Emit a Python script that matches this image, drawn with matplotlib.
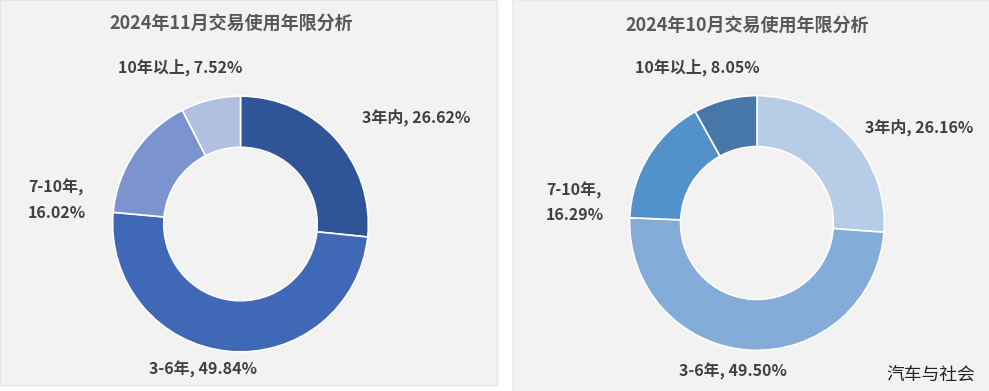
import matplotlib
matplotlib.use("Agg")
import matplotlib.pyplot as plt
from matplotlib.patches import Rectangle

plt.rcParams['font.family'] = ['Noto Sans CJK SC', 'DejaVu Sans']

categories = ["3年内", "3-6年", "7-10年", "10年以上"]
nov_values = [26.62, 49.84, 16.02, 7.52]
oct_values = [26.16, 49.50, 16.29, 8.05]
nov_title = "2024年11月交易使用年限分析"
oct_title = "2024年10月交易使用年限分析"
nov_colors = ["#2f5597", "#3f69b6", "#7b93cf", "#b1bfe0"]
oct_colors = ["#b6cce7", "#84acd9", "#5291c9", "#4677a8"]
watermark = "汽车与社会"

W, H = 989, 391
fig = plt.figure(figsize=(W / 100, H / 100), dpi=100, facecolor="white")

def px_rect(x0, y0, x1, y1):
    return [x0 / W, 1 - y1 / H, (x1 - x0) / W, (y1 - y0) / H]

bg = fig.add_axes([0, 0, 1, 1])
bg.set_xlim(0, W)
bg.set_ylim(H, 0)
bg.axis("off")
bg.add_patch(Rectangle((0, 0), 497, 385, facecolor="#f2f2f2", edgecolor="#e4e4e4", lw=0.8))
bg.add_patch(Rectangle((512, 0), 477, 391, facecolor="#f2f2f2", edgecolor="#e8e8e8", lw=0.6))

def donut(cx, cy, r, values, colors):
    ax = fig.add_axes(px_rect(cx - r, cy - r, cx + r, cy + r))
    ax.pie(values, colors=colors, startangle=90, counterclock=False,
           radius=1.0, wedgeprops=dict(width=0.4, edgecolor="white", linewidth=1.2))
    ax.set_xlim(-1.005, 1.005)
    ax.set_ylim(-1.005, 1.005)
    ax.set_aspect("equal")
    ax.axis("off")
    return ax

donut(240.5, 224, 128.5, nov_values, nov_colors)
donut(757, 223, 128, oct_values, oct_colors)

tc = "#595959"
lc = "#404040"
def txt(x, y, s, size=11.5, ha="center", weight="bold", color=lc):
    bg.text(x, y, s, ha=ha, va="center", fontsize=size, fontweight=weight, color=color)

def fmt(c, v):
    return f"{c}, {v:.2f}%"

txt(231, 23, nov_title, size=13, color=tc)
txt(747, 25, oct_title, size=13, color=tc)

# November labels
txt(180, 67, fmt(categories[3], nov_values[3]))
txt(416, 117, fmt(categories[0], nov_values[0]))
txt(28, 187, f"{categories[2]},", ha="left")
txt(28, 213, f"{nov_values[2]:.2f}%", ha="left")
txt(203, 369, fmt(categories[1], nov_values[1]))

# October labels
txt(697, 67, fmt(categories[3], oct_values[3]))
txt(919, 127, fmt(categories[0], oct_values[0]))
txt(546, 190, f"{categories[2]},", ha="left")
txt(546, 215, f"{oct_values[2]:.2f}%", ha="left")
txt(733, 371, fmt(categories[1], oct_values[1]))

bg.text(931, 375, watermark, ha="center", va="center", fontsize=12.8, color="#222222")

fig.savefig("out.png", dpi=100, facecolor="white")
